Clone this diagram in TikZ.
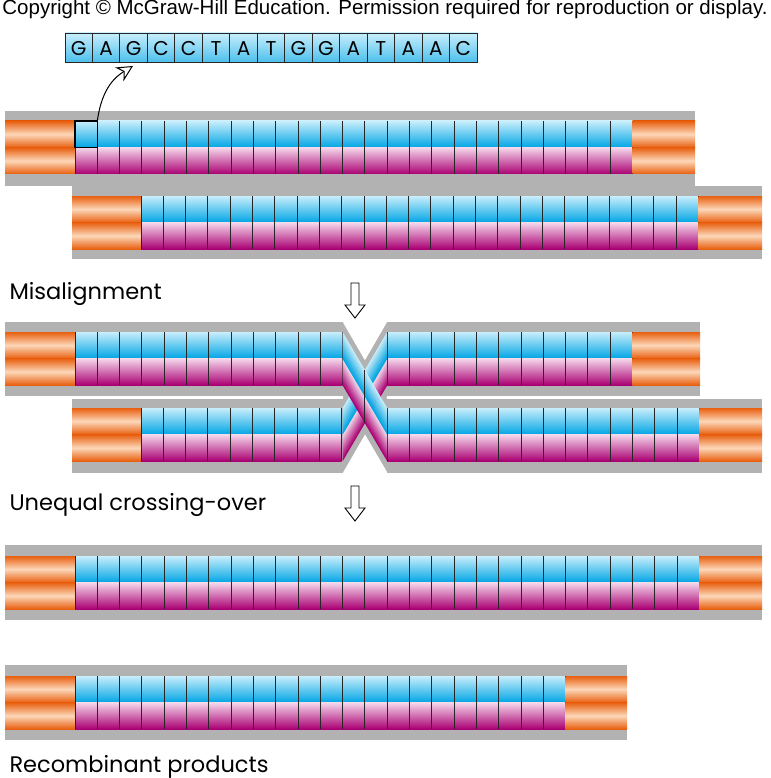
\documentclass[tikz,border=0pt]{standalone}
\usepackage{fontspec}
\setmainfont{Poppins}
\newfontfamily\helv{Liberation Sans}
\usetikzlibrary{arrows.meta}
\definecolor{gr}{RGB}{178,178,178}
\definecolor{bL}{RGB}{200,238,252}
\definecolor{bD}{RGB}{0,165,228}
\definecolor{mL}{RGB}{245,215,235}
\definecolor{mD}{RGB}{170,0,115}
\definecolor{orD}{RGB}{232,95,15}
\definecolor{orL}{RGB}{252,215,185}
\tikzset{cellline/.style={black!85,line width=1pt},lab/.style={anchor=base west,font=\fontsize{22.5}{25}\selectfont}}
\newcommand\orng[3]{%
 \shade[top color=orD,bottom color=orD,middle color=orL] (#1,#3) rectangle (#2,#3+26.5);
 \shade[top color=orD,bottom color=orD,middle color=orL] (#1,#3+26.5) rectangle (#2,#3+53);}
\newcommand\cellrow[3]{%
 \shade[top color=bL,bottom color=bD] (#1,#2) rectangle ++(#3*22.3,26.5);
 \shade[top color=mL,bottom color=mD] (#1,#2+26.5) rectangle ++(#3*22.3,26.5);
 \foreach \i in {0,...,#3} \draw[cellline] (#1+\i*22.3,#2) -- ++(0,53);}
\newcommand\strand[3]{%
 \foreach \k in {0,...,12}{
   \pgfmathsetmacro\pa{\k*26.5/13}\pgfmathsetmacro\pb{(\k+1)*26.5/13+0.3}\pgfmathtruncatemacro\pp{\k*100/12}
   \fill[bD!\pp!bL] (#1,#2+\pa) -- (#1,#2+\pb) -- (#1+44.6,#2+#3+\pb) -- (#1+44.6,#2+#3+\pa) -- cycle;
   \fill[mD!\pp!mL] (#1,#2+26.5+\pa) -- (#1,#2+26.5+\pb) -- (#1+44.6,#2+#3+26.5+\pb) -- (#1+44.6,#2+#3+26.5+\pa) -- cycle;}
 \draw[cellline] (#1+22.3,#2+#3/2) -- ++(0,53);}
\begin{document}
\begin{tikzpicture}[x=1pt,y=-1pt]
\useasboundingbox (0,0) rectangle (770,778);
\node[anchor=base,font=\helv\fontsize{20.5}{22}\selectfont,inner sep=0pt] (copy) at (385,15) {Copyright © McGraw-Hill Education. Permission required for reproduction or display.};
% sequence
\shade[top color=bL,bottom color=bD!70] (65,33) rectangle (477,62);
\foreach \l [count=\i from 0] in {G,A,G,C,C,T,A,T,G,G,A,T,A,A,C}
  \node[font=\fontsize{20}{22}\selectfont] (s\i) at (65+\i*27.47+13.7,48.5) {\l};
\foreach \i in {0,...,15} \draw[black!85,line width=0.9pt] (65+\i*27.47,33) -- (65+\i*27.47,62);
\draw[black!85,line width=0.9pt] (65,33) rectangle (477,62);
% row 1 and 2
\fill[gr] (5,111) rectangle (695,186);
\fill[gr] (72,186) rectangle (762,259);
\orng{5}{75}{121}\cellrow{75}{121}{25}\orng{632.5}{695}{121}
\orng{72}{141}{196}\cellrow{141}{196}{25}\orng{698.5}{762}{196}
\draw[black,line width=1.4pt] (75,121) rectangle (97.3,147.5);
\coordinate (c1) at (97.3,121);
\draw[line width=1pt,-{Stealth[open,length=16pt,width=16pt,inset=5pt]}] (c1) .. controls (101,95) and (110,80) .. (133,66);
% arrows
\foreach \yy in {283,486}
 \draw[line width=0.9pt,fill=white] (351,\yy) -- (359,\yy) -- (359,\yy+22) -- (365,\yy+22) -- (355,\yy+35) -- (345,\yy+22) -- (351,\yy+22) -- cycle;
\node[lab] (mis) at (6,299) {Misalignment};
\node[lab] (uneq) at (6,510) {Unequal crossing-over};
\node[lab] (rec) at (6,772) {Recombinant products};
% rows 3,4
\fill[gr] (5,322) rectangle (342.6,396);
\fill[gr] (387.2,322) rectangle (700,396);
\fill[gr] (72,399) rectangle (342.6,473);
\fill[gr] (387.2,399) rectangle (762,473);
\fill[gr] (342.6,322) -- (342.6,396) -- (387.2,472) -- (387.2,399) -- cycle;
\fill[gr] (342.6,399) -- (342.6,473) -- (387.2,396) -- (387.2,322) -- cycle;
\orng{5}{75}{332}\cellrow{75}{332}{12}\cellrow{387.2}{332}{11}\orng{632.5}{700}{332}
\orng{72}{141}{408}\cellrow{141}{408}{9}\cellrow{387.2}{408}{14}\orng{699.4}{762}{408}
\strand{342.6}{408}{-76}
\strand{342.6}{332}{76}
% row 5,6
\fill[gr] (5,545) rectangle (762,620);
\orng{5}{75}{556}\cellrow{75}{556}{28}\orng{699.4}{762}{556}
\fill[gr] (5,665) rectangle (627,740);
\orng{5}{75}{676}\cellrow{75}{676}{22}\orng{565.6}{627}{676}
\end{tikzpicture}
\end{document}
